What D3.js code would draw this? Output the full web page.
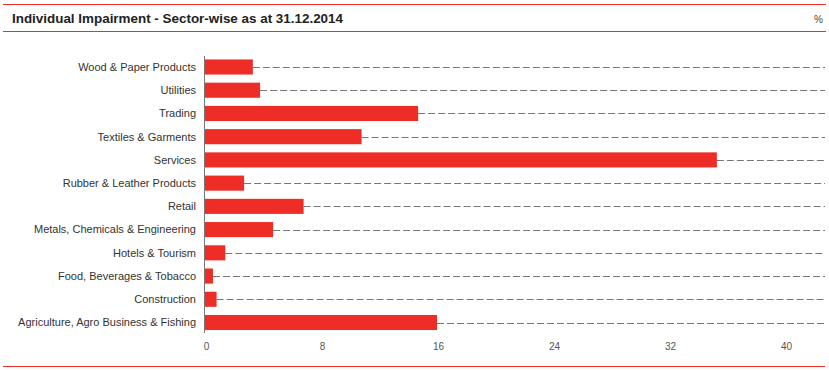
<!DOCTYPE html>
<html><head><meta charset="utf-8">
<script src="https://cdn.jsdelivr.net/npm/d3@7"></script>
<style>body{margin:0;background:#fff}svg{display:block}</style>
</head><body>
<script>
const categories = ["Wood & Paper Products","Utilities","Trading","Textiles & Garments","Services","Rubber & Leather Products","Retail","Metals, Chemicals & Engineering","Hotels & Tourism","Food, Beverages & Tobacco","Construction","Agriculture, Agro Business & Fishing"];
const values = [3.3, 3.8, 14.7, 10.8, 35.3, 2.7, 6.8, 4.7, 1.4, 0.55, 0.8, 16.0];
const tickValues = [0, 8, 16, 24, 32, 40];
const title = "Individual Impairment - Sector-wise as at 31.12.2014";

const W = 829, H = 370;
const svg = d3.select("body").append("svg").attr("width", W).attr("height", H);
const red = "#ee2d27";
const sans = "'Liberation Sans',Arial,sans-serif";

svg.append("line").attr("x1",3).attr("x2",826).attr("y1",4.5).attr("y2",4.5).attr("stroke",red).attr("stroke-width",1.2);
svg.append("line").attr("x1",3).attr("x2",826).attr("y1",31.5).attr("y2",31.5).attr("stroke",red).attr("stroke-width",1.2);
svg.append("line").attr("x1",3).attr("x2",825).attr("y1",366.5).attr("y2",366.5).attr("stroke",red).attr("stroke-width",1.2);

svg.append("text").attr("x",12).attr("y",23.3).attr("font-family",sans).attr("font-weight","bold")
  .attr("font-size",12.5).attr("fill","#222").attr("textLength",331).attr("lengthAdjust","spacingAndGlyphs").text(title);
svg.append("text").attr("x",823).attr("y",23).attr("text-anchor","end").attr("font-family",sans)
  .attr("font-size",10).attr("fill","#444").text("%");

const x = d3.scaleLinear().domain([0,40]).range([205, 785]);
const y = d3.scaleBand().domain(categories).range([55.5, 334]).paddingInner(0.35).paddingOuter(0.17);

const g = svg.append("g");
g.selectAll("line.dash").data(categories).join("line").attr("class","dash")
  .attr("x1", (d,i)=>x(values[i])).attr("x2", 825)
  .attr("y1", d=>Math.round(y(d)+y.bandwidth()/2)+0.5).attr("y2", d=>Math.round(y(d)+y.bandwidth()/2)+0.5)
  .attr("stroke","#777").attr("stroke-width",1).attr("stroke-dasharray","7,3");

g.selectAll("rect").data(categories).join("rect")
  .attr("x", x(0)).attr("y", d=>y(d)).attr("width",(d,i)=>x(values[i])-x(0)).attr("height", y.bandwidth())
  .attr("fill", red);

svg.append("line").attr("x1",204.5).attr("x2",204.5).attr("y1",56).attr("y2",333).attr("stroke","#777").attr("stroke-width",1);

svg.selectAll("text.cat").data(categories).join("text").attr("class","cat")
  .attr("x",196).attr("y", d=>y(d)+y.bandwidth()/2).attr("dy","0.35em").attr("text-anchor","end")
  .attr("font-family",sans).attr("font-size",11).attr("fill","#333").text(d=>d);

const xAxis = d3.axisBottom(x).tickValues(tickValues).tickSize(0).tickPadding(0);
const ax = svg.append("g").attr("transform","translate(1,343)").call(xAxis);
ax.select(".domain").remove();
ax.selectAll("text").attr("font-family",sans).attr("font-size",10).attr("fill","#555");
</script>
</body></html>
